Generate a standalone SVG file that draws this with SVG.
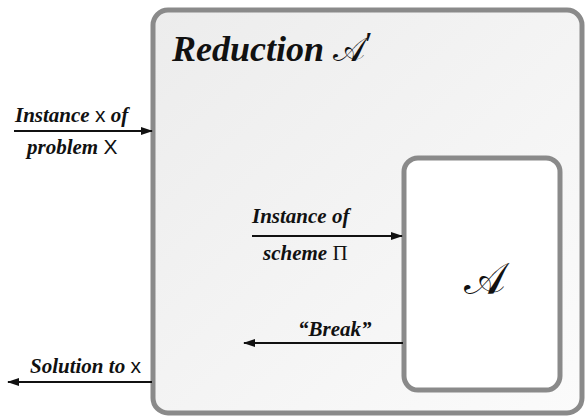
<svg xmlns="http://www.w3.org/2000/svg" width="586" height="416" viewBox="0 0 586 416">
<defs>
<linearGradient id="bg" x1="0" y1="0" x2="1" y2="1">
<stop offset="0" stop-color="#ececec"/>
<stop offset="1" stop-color="#fbfbfb"/>
</linearGradient>
<marker id="ah" markerWidth="12" markerHeight="8" refX="11" refY="4" orient="auto" markerUnits="userSpaceOnUse">
<path d="M0,0 L12,4 L0,8 Z" fill="#111"/>
</marker>
<style>
.box{stroke:#8a8a8a;stroke-width:5}
.lbl{font-family:"Liberation Serif",serif;font-weight:bold;font-style:italic;font-size:21px;fill:#111}
.sf{font-family:"Liberation Sans",sans-serif;font-weight:normal;font-style:normal;fill:#111}
.conn{stroke:#111;stroke-width:2;fill:none;marker-end:url(#ah)}
.math{font-family:"DejaVu Serif","Liberation Serif",serif;fill:#111}
</style>
</defs>
<rect width="586" height="416" fill="#ffffff"/>
<g id="reduction">
<rect class="box" x="153" y="10" width="429" height="403" rx="15" fill="url(#bg)"/>
<text x="172" y="61" font-family="Liberation Serif, serif" font-weight="bold" font-style="italic" font-size="36" fill="#111">Reduction <tspan class="math" font-weight="normal" font-style="normal" font-size="34">𝒜</tspan><tspan font-family="Liberation Serif, serif" font-weight="normal" font-style="normal" font-size="34" dy="-6">′</tspan></text>
</g>
<g id="adversary">
<rect class="box" x="404" y="158" width="156" height="232" rx="14" fill="#ffffff"/>
<text x="485" y="294" text-anchor="middle" class="math" font-size="44">𝒜</text>
</g>
<g id="connectors">
<line class="conn" x1="14" y1="131" x2="152" y2="131"/>
<line class="conn" x1="252" y1="236" x2="402" y2="236"/>
<line class="conn" x1="403" y1="343" x2="244" y2="343"/>
<line class="conn" x1="152" y1="382" x2="8" y2="382"/>
</g>
<g id="labels">
<text class="lbl" x="15" y="122">Instance <tspan class="sf">x</tspan> of</text>
<text class="lbl" x="27" y="154">problem <tspan class="sf">X</tspan></text>
<text class="lbl" x="252" y="223">Instance of</text>
<text class="lbl" x="263" y="260">scheme <tspan font-family="Liberation Serif, serif" font-style="normal" font-weight="normal">Π</tspan></text>
<text class="lbl" x="298" y="336">“Break”</text>
<text class="lbl" x="30" y="373">Solution to <tspan class="sf">x</tspan></text>
</g>
</svg>
